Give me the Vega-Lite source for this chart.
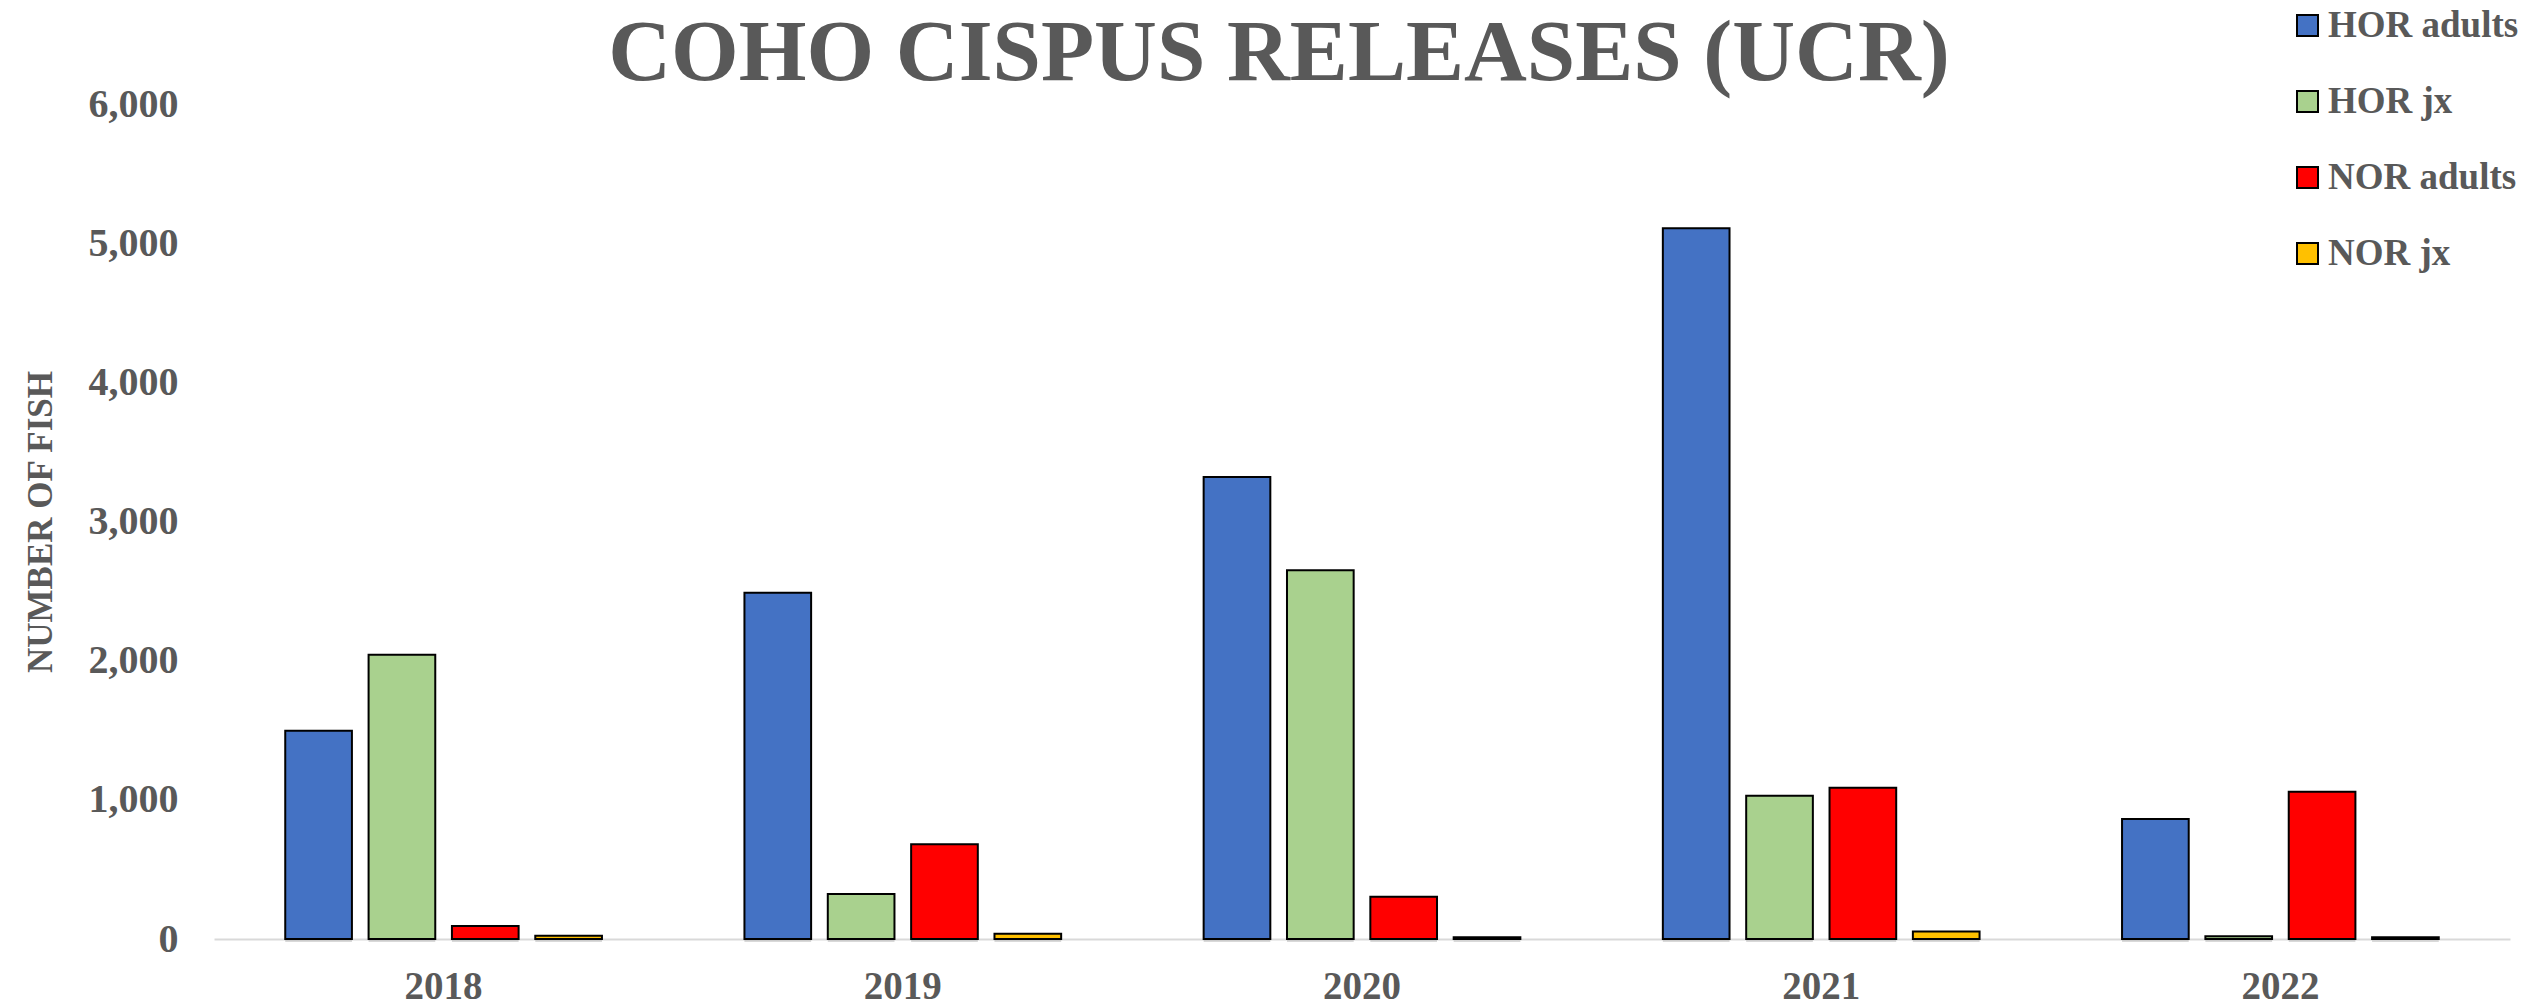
{
  "$schema": "https://vega.github.io/schema/vega-lite/v6.json",
  "autosize": {"type": "none"},
  "width": 2296,
  "height": 835,
  "padding": {"left": 214, "top": 104, "right": 16, "bottom": 66},
  "background": "white",
  "title": {
    "text": "COHO CISPUS RELEASES (UCR)",
    "font": "Liberation Serif",
    "fontSize": 87,
    "fontWeight": "bold",
    "color": "#595959",
    "anchor": "middle",
    "frame": "group",
    "dx": -83,
    "offset": -91
  },
  "config": {
    "view": {"stroke": null},
    "font": "Liberation Serif"
  },
  "data": {
    "values": [
      {"year": "2018", "series": "HOR adults", "fish": 1497},
      {"year": "2018", "series": "HOR jx", "fish": 2043},
      {"year": "2018", "series": "NOR adults", "fish": 94},
      {"year": "2018", "series": "NOR jx", "fish": 24},
      {"year": "2019", "series": "HOR adults", "fish": 2488},
      {"year": "2019", "series": "HOR jx", "fish": 323},
      {"year": "2019", "series": "NOR adults", "fish": 681},
      {"year": "2019", "series": "NOR jx", "fish": 38},
      {"year": "2020", "series": "HOR adults", "fish": 3320},
      {"year": "2020", "series": "HOR jx", "fish": 2649},
      {"year": "2020", "series": "NOR adults", "fish": 304},
      {"year": "2020", "series": "NOR jx", "fish": 12},
      {"year": "2021", "series": "HOR adults", "fish": 5108},
      {"year": "2021", "series": "HOR jx", "fish": 1029},
      {"year": "2021", "series": "NOR adults", "fish": 1087},
      {"year": "2021", "series": "NOR jx", "fish": 53},
      {"year": "2022", "series": "HOR adults", "fish": 862},
      {"year": "2022", "series": "HOR jx", "fish": 19},
      {"year": "2022", "series": "NOR adults", "fish": 1058},
      {"year": "2022", "series": "NOR jx", "fish": 12}
    ]
  },
  "encoding": {
    "x": {
      "field": "year",
      "type": "nominal",
      "scale": {"paddingInner": 0.274, "paddingOuter": 0.137},
      "axis": {
        "title": null,
        "labelAngle": 0,
        "labelFont": "Liberation Serif",
        "labelFontWeight": "bold",
        "labelFontSize": 39,
        "labelColor": "#595959",
        "labelPadding": 28,
        "ticks": false,
        "domainColor": "#D9D9D9",
        "domainWidth": 2,
        "grid": false
      }
    },
    "xOffset": {
      "field": "series",
      "type": "nominal",
      "sort": ["HOR adults", "HOR jx", "NOR adults", "NOR jx"],
      "scale": {"paddingInner": 0.2, "paddingOuter": 0.1}
    },
    "y": {
      "field": "fish",
      "type": "quantitative",
      "scale": {"domain": [0, 6000], "nice": false},
      "axis": {
        "title": "NUMBER OF FISH",
        "titleFont": "Liberation Serif",
        "titleFontWeight": "bold",
        "titleFontSize": 35,
        "titleColor": "#595959",
        "titlePadding": 30,
        "values": [0, 1000, 2000, 3000, 4000, 5000, 6000],
        "format": ",d",
        "labelFont": "Liberation Serif",
        "labelFontWeight": "bold",
        "labelFontSize": 40,
        "labelColor": "#595959",
        "labelPadding": 36,
        "ticks": false,
        "domain": false,
        "grid": false
      }
    }
  },
  "layer": [
    {
      "mark": {"type": "bar", "color": "#808080", "opacity": 0.3, "xOffset": 4, "yOffset": 3}
    },
    {
      "mark": {"type": "bar", "stroke": "#000000", "strokeWidth": 2},
      "encoding": {
        "color": {
          "field": "series",
          "type": "nominal",
          "sort": ["HOR adults", "HOR jx", "NOR adults", "NOR jx"],
          "scale": {
            "domain": ["HOR adults", "HOR jx", "NOR adults", "NOR jx"],
            "range": ["#4472C4", "#A9D18E", "#FF0000", "#FFC000"]
          },
          "legend": {
            "title": null,
            "orient": "none",
            "legendX": 2075,
            "legendY": -97,
            "padding": 0,
            "symbolType": "square",
            "symbolSize": 441,
            "symbolStrokeColor": "#000000",
            "symbolStrokeWidth": 2,
            "symbolOpacity": 1,
            "labelFont": "Liberation Serif",
            "labelFontWeight": "bold",
            "labelFontSize": 37,
            "labelColor": "#595959",
            "labelOffset": 2,
            "labelLimit": 400,
            "rowPadding": 38
          }
        }
      }
    }
  ]
}
